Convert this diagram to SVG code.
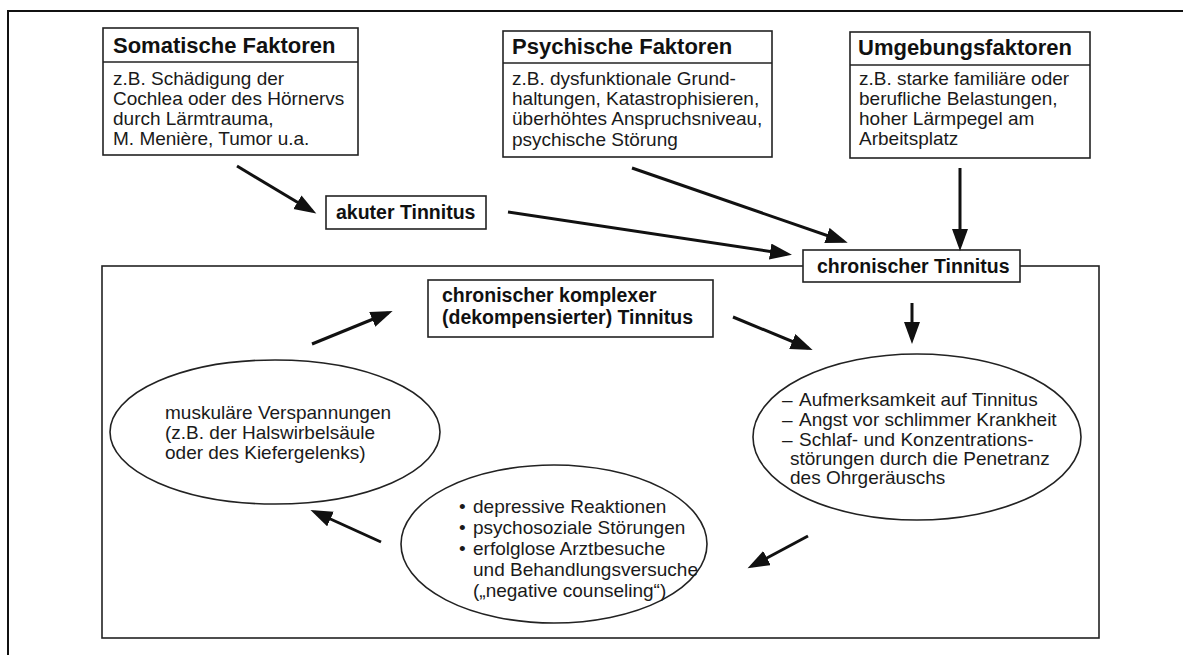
<svg xmlns="http://www.w3.org/2000/svg" width="1183" height="655" viewBox="0 0 1183 655">
<style>
  .frame{fill:none;stroke:#111;stroke-width:2}
  .box{fill:#fff;stroke:#222;stroke-width:1.6}
  .ell{fill:#fff;stroke:#222;stroke-width:1.6}
  .sep{stroke:#222;stroke-width:1.6}
  .title{font-family:"Liberation Sans",Arial,sans-serif;font-weight:bold;font-size:22px;fill:#111}
  .lbl{font-family:"Liberation Sans",Arial,sans-serif;font-weight:bold;font-size:19.5px;fill:#111}
  .txt{font-family:"Liberation Sans",Arial,sans-serif;font-size:19px;fill:#1a1a1a}
  .arr{stroke:#111;stroke-width:3;fill:none;marker-end:url(#ah)}
</style>
<defs>
  <marker id="ah" markerUnits="userSpaceOnUse" markerWidth="24" markerHeight="18" refX="17" refY="8" orient="auto">
    <path d="M0,0 L22,8 L0,16 z" fill="#111"/>
  </marker>
</defs>
<rect width="1183" height="655" fill="#fff"/>
<rect class="frame" x="8" y="11" width="1185" height="660"/>

<g id="loop-frame">
  <rect class="box" x="102" y="266" width="997" height="372" fill="none"/>
</g>

<g id="somatische">
  <rect class="box" x="103" y="28" width="255" height="127"/>
  <line class="sep" x1="103" y1="62" x2="358" y2="62"/>
  <text class="title" x="113" y="53">Somatische Faktoren</text>
  <text class="txt" x="113" y="85">z.B. Schädigung der</text>
  <text class="txt" x="113" y="105">Cochlea oder des Hörnervs</text>
  <text class="txt" x="113" y="125">durch Lärmtrauma,</text>
  <text class="txt" x="113" y="145">M. Menière, Tumor u.a.</text>
</g>

<g id="psychische">
  <rect class="box" x="503" y="31" width="269" height="126"/>
  <line class="sep" x1="503" y1="63" x2="772" y2="63"/>
  <text class="title" x="512" y="54">Psychische Faktoren</text>
  <text class="txt" x="512" y="85">z.B. dysfunktionale Grund-</text>
  <text class="txt" x="512" y="105">haltungen, Katastrophisieren,</text>
  <text class="txt" x="512" y="125">überhöhtes Anspruchsniveau,</text>
  <text class="txt" x="512" y="146">psychische Störung</text>
</g>

<g id="umgebung">
  <rect class="box" x="850" y="32" width="240" height="126"/>
  <line class="sep" x1="850" y1="65" x2="1090" y2="65"/>
  <text class="title" x="858" y="55">Umgebungsfaktoren</text>
  <text class="txt" x="859" y="85">z.B. starke familiäre oder</text>
  <text class="txt" x="859" y="105">berufliche Belastungen,</text>
  <text class="txt" x="859" y="125">hoher Lärmpegel am</text>
  <text class="txt" x="859" y="145">Arbeitsplatz</text>
</g>

<g id="akut">
  <rect class="box" x="326" y="196" width="160" height="33"/>
  <text class="lbl" x="336" y="219">akuter Tinnitus</text>
</g>

<g id="chronisch">
  <rect class="box" x="803" y="250" width="217" height="32"/>
  <text class="lbl" x="817" y="273">chronischer Tinnitus</text>
</g>

<g id="komplex">
  <rect class="box" x="428" y="280" width="285" height="57"/>
  <text class="lbl" x="442" y="302">chronischer komplexer</text>
  <text class="lbl" x="442" y="324">(dekompensierter) Tinnitus</text>
</g>

<g id="aufmerksamkeit">
  <ellipse class="ell" cx="917" cy="437" rx="164" ry="83"/>
  <text class="txt" x="782" y="406">–</text>
  <text class="txt" x="799" y="406">Aufmerksamkeit auf Tinnitus</text>
  <text class="txt" x="782" y="426">–</text>
  <text class="txt" x="799" y="426">Angst vor schlimmer Krankheit</text>
  <text class="txt" x="782" y="446">–</text>
  <text class="txt" x="799" y="446">Schlaf- und Konzentrations-</text>
  <text class="txt" x="790" y="465">störungen durch die Penetranz</text>
  <text class="txt" x="790" y="484">des Ohrgeräuschs</text>
</g>

<g id="depressiv">
  <ellipse class="ell" cx="554" cy="544" rx="153" ry="79"/>
  <text class="txt" x="459" y="513">•</text>
  <text class="txt" x="473" y="513">depressive Reaktionen</text>
  <text class="txt" x="459" y="534">•</text>
  <text class="txt" x="473" y="534">psychosoziale Störungen</text>
  <text class="txt" x="459" y="555">•</text>
  <text class="txt" x="473" y="555">erfolglose Arztbesuche</text>
  <text class="txt" x="473" y="576">und Behandlungsversuche</text>
  <text class="txt" x="473" y="597">(„negative counseling“)</text>
</g>

<g id="muskulaer">
  <ellipse class="ell" cx="275" cy="432" rx="165" ry="72"/>
  <text class="txt" x="165" y="419">muskuläre Verspannungen</text>
  <text class="txt" x="165" y="439">(z.B. der Halswirbelsäule</text>
  <text class="txt" x="165" y="459">oder des Kiefergelenks)</text>
</g>

<g id="connectors">
  <line class="arr" x1="237" y1="166" x2="312" y2="211"/>
  <line class="arr" x1="508" y1="212" x2="787" y2="254"/>
  <line class="arr" x1="632" y1="168" x2="843" y2="241"/>
  <line class="arr" x1="960" y1="168" x2="960" y2="246"/>
  <line class="arr" x1="912" y1="303" x2="912" y2="339"/>
  <line class="arr" x1="733" y1="317" x2="808" y2="348"/>
  <line class="arr" x1="808" y1="536" x2="752" y2="566"/>
  <line class="arr" x1="381" y1="542" x2="315" y2="512"/>
  <line class="arr" x1="312" y1="344" x2="388" y2="313"/>
</g>
</svg>
